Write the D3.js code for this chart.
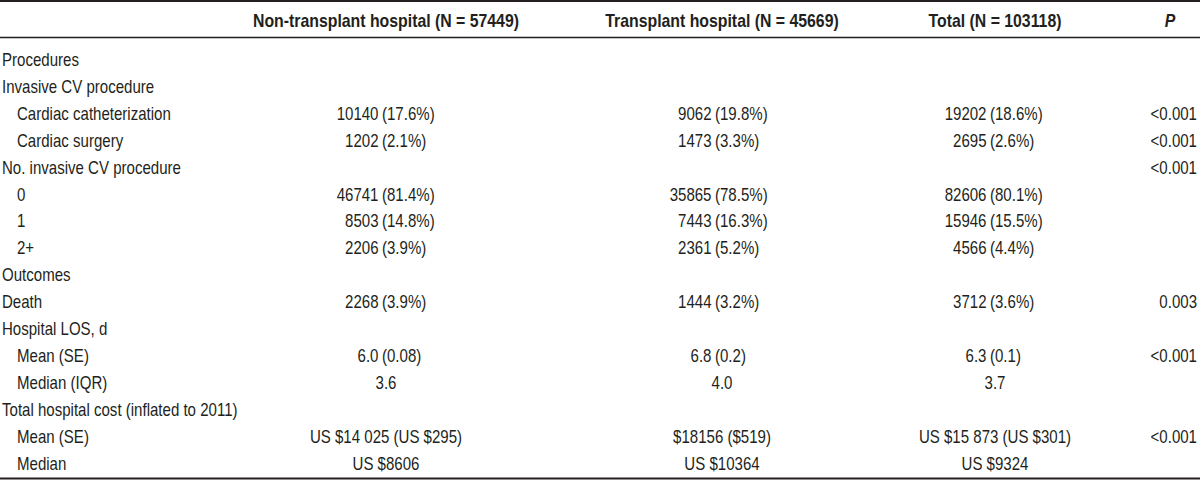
<!DOCTYPE html>
<html>
<head>
<meta charset="utf-8">
<script src="https://cdn.jsdelivr.net/npm/d3@7"></script>
<style>
  html, body { margin: 0; padding: 0; background: #fff; }
  svg { display: block; }
  text { font-family: "Liberation Sans", Arial, Helvetica, sans-serif; fill: #231f20; }
</style>
</head>
<body>
<svg id="chart" width="1200" height="480"></svg>
<script>
// ---- data ----
const headers = ["Non-transplant hospital (N = 57449)", "Transplant hospital (N = 45669)", "Total (N = 103118)"];
const pHeader = "P";
const rowLabels = [
  "Procedures", "Invasive CV procedure", "Cardiac catheterization", "Cardiac surgery",
  "No. invasive CV procedure", "0", "1", "2+", "Outcomes", "Death", "Hospital LOS, d",
  "Mean (SE)", "Median (IQR)", "Total hospital cost (inflated to 2011)", "Mean (SE)", "Median"
];
const rowLevels = [0, 0, 1, 1, 0, 1, 1, 1, 0, 0, 0, 1, 1, 0, 1, 1];
// cell kinds: "a" = aligned on the parenthesis, "c" = centred
const cellKinds = ["", "", "a", "a", "", "a", "a", "a", "", "a", "", "a", "c", "", "c", "c"];
const nonTransplant = ["", "", "10140 (17.6%)", "1202 (2.1%)", "", "46741 (81.4%)", "8503 (14.8%)", "2206 (3.9%)", "", "2268 (3.9%)", "", "6.0 (0.08)", "3.6", "", "US $14 025 (US $295)", "US $8606"];
const transplant = ["", "", "9062 (19.8%)", "1473 (3.3%)", "", "35865 (78.5%)", "7443 (16.3%)", "2361 (5.2%)", "", "1444 (3.2%)", "", "6.8 (0.2)", "4.0", "", "$18156 ($519)", "US $10364"];
const total = ["", "", "19202 (18.6%)", "2695 (2.6%)", "", "82606 (80.1%)", "15946 (15.5%)", "4566 (4.4%)", "", "3712 (3.6%)", "", "6.3 (0.1)", "3.7", "", "US $15 873 (US $301)", "US $9324"];
const pValues = ["", "", "<0.001", "<0.001", "<0.001", "", "", "", "", "0.003", "", "<0.001", "", "", "<0.001", ""];

// ---- layout ----
const W = 1200, H = 480;
const SX = 0.86;          // horizontal condensing of the body font
const FS = 17.5;          // body font size
const HSX = 0.88;         // condensing of the header font
const HFS = 18;           // header font size
const svg = d3.select("#chart");

const y = d3.scalePoint().domain(d3.range(rowLabels.length)).range([66, 469.5]);
const colCenter = d3.scaleOrdinal().domain([0, 1, 2]).range([386, 722, 995]);
const colAnchor = d3.scaleOrdinal().domain([0, 1, 2]).range([382, 715, 990]);
const indent = d3.scaleOrdinal().domain([0, 1]).range([2, 17]);
const pRight = 1197, pCenter = 1170;

function txt(x, yy, s, anchor, opts = {}) {
  const sx = opts.sx || SX;
  const t = svg.append("text")
    .attr("transform", `translate(${x},${yy}) scale(${sx},1)`)
    .attr("text-anchor", anchor)
    .style("font-size", (opts.size || FS) + "px")
    .text(s);
  if (opts.bold) t.style("font-weight", "bold");
  if (opts.italic) t.style("font-style", "italic");
  return t;
}

// rules
svg.append("line").attr("x1", 0).attr("x2", W).attr("y1", 1).attr("y2", 1)
  .attr("stroke", "#231f20").attr("stroke-width", 2);
svg.append("line").attr("x1", 0).attr("x2", W).attr("y1", 37.5).attr("y2", 37.5)
  .attr("stroke", "#231f20").attr("stroke-width", 1.3);
svg.append("line").attr("x1", 0).attr("x2", W).attr("y1", 478.5).attr("y2", 478.5)
  .attr("stroke", "#231f20").attr("stroke-width", 2);

// headers
headers.forEach((h, i) => txt(colCenter(i), 27, h, "middle", { bold: true, sx: HSX, size: HFS }));
txt(pCenter, 27, pHeader, "middle", { bold: true, italic: true, sx: HSX, size: HFS });

// row labels
rowLabels.forEach((l, i) => txt(indent(rowLevels[i]), y(i), l, "start"));

// value cells
[nonTransplant, transplant, total].forEach((col, c) => {
  col.forEach((v, i) => {
    if (!v) return;
    if (cellKinds[i] === "a") {
      const k = v.indexOf(" (");
      txt(colAnchor(c) - 3.5, y(i), v.slice(0, k), "end");
      txt(colAnchor(c), y(i), v.slice(k + 1), "start");
    } else {
      txt(colCenter(c), y(i), v, "middle");
    }
  });
});

// P values
pValues.forEach((p, i) => { if (p) txt(pRight, y(i), p, "end"); });
</script>
</body>
</html>
